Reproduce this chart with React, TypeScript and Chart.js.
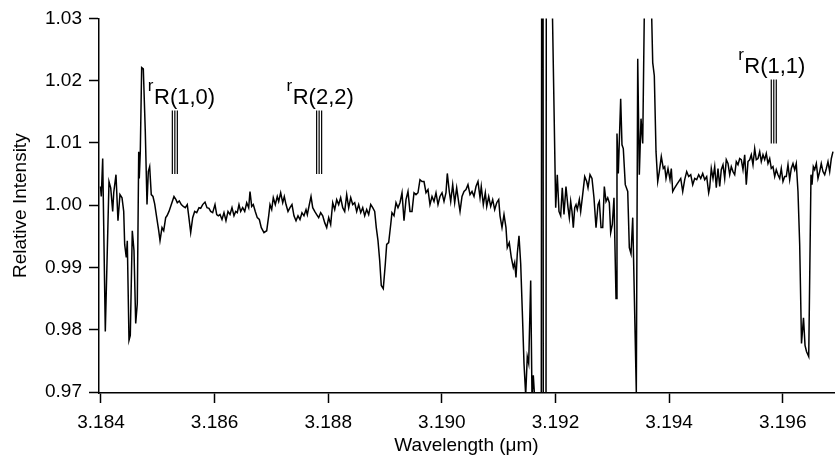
import React, { useEffect, useRef } from "react";
import { Chart, registerables } from "chart.js";

Chart.register(...registerables);

// Wavelength (µm) of each sample of the spectrum
const wavelength: number[] = [
  3.183991, 3.184005, 3.18403, 3.184076, 3.184141, 3.184171, 3.184206, 3.184224, 3.184264, 3.184299,
  3.184334, 3.18437, 3.1844, 3.184417, 3.184445, 3.184463, 3.184493, 3.184516, 3.184551, 3.184581,
  3.184611, 3.184639, 3.184664, 3.184674, 3.184692, 3.184716, 3.184745, 3.18478, 3.18481, 3.184833,
  3.184857, 3.184885, 3.184915, 3.184945, 3.184981, 3.185016, 3.185039, 3.185074, 3.185104, 3.185139,
  3.185162, 3.185197, 3.185238, 3.185285, 3.18532, 3.185343, 3.185378, 3.185414, 3.185449, 3.185484,
  3.185519, 3.185544, 3.185579, 3.185614, 3.185649, 3.185685, 3.185725, 3.185755, 3.18579, 3.185831,
  3.185866, 3.185901, 3.185931, 3.185966, 3.186007, 3.186037, 3.186065, 3.186095, 3.18613, 3.186165,
  3.1862, 3.186236, 3.186271, 3.186306, 3.186341, 3.186371, 3.186399, 3.186429, 3.186459, 3.186494,
  3.18653, 3.186565, 3.1866, 3.186623, 3.186653, 3.186681, 3.186716, 3.186751, 3.186787, 3.186822,
  3.186869, 3.186917, 3.186952, 3.186975, 3.187005, 3.187033, 3.187068, 3.187103, 3.187128, 3.187163,
  3.187199, 3.187227, 3.187257, 3.187292, 3.187327, 3.187362, 3.187397, 3.187433, 3.187468, 3.187503,
  3.187538, 3.187573, 3.187609, 3.187632, 3.187667, 3.187697, 3.187727, 3.187762, 3.187797, 3.187832,
  3.187867, 3.187903, 3.187938, 3.187973, 3.188008, 3.188043, 3.188079, 3.188114, 3.188149, 3.188184,
  3.188219, 3.188255, 3.18829, 3.188325, 3.18836, 3.188396, 3.188431, 3.188466, 3.188501, 3.188536,
  3.188572, 3.188607, 3.188642, 3.188677, 3.188712, 3.188748, 3.188783, 3.188818, 3.188846, 3.188876,
  3.188906, 3.188934, 3.188969, 3.189005, 3.189029, 3.189064, 3.1891, 3.189122, 3.189158, 3.189193,
  3.189228, 3.189263, 3.189299, 3.189334, 3.189369, 3.189404, 3.189439, 3.189475, 3.18951, 3.189545,
  3.18958, 3.189615, 3.189651, 3.189686, 3.189721, 3.189756, 3.189791, 3.189827, 3.189862, 3.189897,
  3.189932, 3.189967, 3.190003, 3.190038, 3.190073, 3.190096, 3.190131, 3.190156, 3.190191, 3.190226,
  3.190261, 3.190297, 3.19032, 3.190355, 3.19039, 3.190425, 3.19046, 3.190496, 3.190531, 3.190566,
  3.190601, 3.190636, 3.190672, 3.190694, 3.19073, 3.190765, 3.19079, 3.190825, 3.19086, 3.190895,
  3.19093, 3.190966, 3.191001, 3.191024, 3.191059, 3.191094, 3.191129, 3.191152, 3.191187, 3.191223,
  3.191258, 3.191282, 3.191305, 3.191328, 3.191358, 3.191388, 3.191416, 3.191446, 3.191476, 3.191504,
  3.191529, 3.191564, 3.191587, 3.19161, 3.191634, 3.191675, 3.191719, 3.191749, 3.191774, 3.191791,
  3.191825, 3.191851, 3.191886, 3.191939, 3.192004, 3.192032, 3.192062, 3.192092, 3.19212, 3.19215,
  3.192185, 3.192221, 3.192244, 3.192268, 3.192291, 3.192314, 3.192339, 3.192362, 3.192384, 3.19242,
  3.192444, 3.192479, 3.192515, 3.19255, 3.192573, 3.192608, 3.192643, 3.192678, 3.192714, 3.192749,
  3.192772, 3.192802, 3.192832, 3.19286, 3.19289, 3.19292, 3.192948, 3.192972, 3.193001, 3.19303,
  3.193066, 3.193083, 3.193106, 3.193148, 3.193171, 3.193194, 3.193229, 3.193272, 3.1933, 3.19333,
  3.19336, 3.193423, 3.193448, 3.193476, 3.193506, 3.193536, 3.193576, 3.193629, 3.193682, 3.193712,
  3.19374, 3.19377, 3.1938, 3.193828, 3.193863, 3.193898, 3.193923, 3.193946, 3.193981, 3.194016,
  3.194039, 3.194064, 3.194099, 3.194134, 3.194169, 3.194205, 3.19424, 3.194275, 3.19431, 3.194345,
  3.194381, 3.194416, 3.194451, 3.194486, 3.194521, 3.194557, 3.194592, 3.194627, 3.194662, 3.194697,
  3.194715, 3.194743, 3.194773, 3.194803, 3.194831, 3.194861, 3.194891, 3.194919, 3.194949, 3.194979,
  3.195007, 3.195037, 3.195067, 3.195095, 3.195125, 3.195155, 3.195183, 3.195213, 3.195243, 3.195271,
  3.195301, 3.195331, 3.195359, 3.195389, 3.195419, 3.195447, 3.195477, 3.195507, 3.195535, 3.195565,
  3.195595, 3.195623, 3.195653, 3.195683, 3.195711, 3.195741, 3.195771, 3.195799, 3.195829, 3.195859,
  3.195887, 3.195917, 3.195947, 3.195975, 3.196005, 3.196035, 3.196063, 3.196093, 3.196123, 3.196151,
  3.196181, 3.196211, 3.196239, 3.196269, 3.196299, 3.196331, 3.196366, 3.196393, 3.196419, 3.196458,
  3.196498, 3.196516, 3.196539, 3.196563, 3.196592, 3.196621, 3.196651, 3.196679, 3.196709, 3.196739,
  3.196768, 3.196797, 3.196827, 3.196856, 3.196885,
];

// Relative intensity of each sample
const intensity: number[] = [
  1.0030, 1.0014, 1.0075, 0.9797, 1.0038, 1.0028, 0.9990, 1.0020, 1.0049, 0.9975,
  1.0017, 1.0012, 0.9990, 0.9937, 0.9916, 0.9943, 0.9783, 0.9791, 0.9959, 0.9927,
  0.9810, 0.9842, 1.0086, 1.0043, 1.0086, 1.0221, 1.0219, 1.0118, 1.0001, 1.0054,
  1.0062, 1.0017, 1.0014, 1.0002, 0.9980, 0.9959, 0.9943, 0.9964, 0.9959, 0.9980,
  0.9983, 0.9990, 1.0001, 1.0014, 1.0009, 1.0004, 1.0007, 1.0001, 0.9998, 0.9996,
  1.0001, 0.9983, 0.9956, 0.9980, 0.9990, 0.9988, 0.9996, 0.9995, 1.0001, 1.0005,
  0.9996, 0.9995, 0.9990, 0.9988, 1.0001, 0.9985, 0.9983, 0.9985, 0.9977, 0.9988,
  0.9975, 0.9990, 0.9985, 0.9996, 0.9983, 0.9990, 0.9988, 1.0001, 0.9990, 0.9996,
  0.9990, 1.0004, 0.9996, 1.0022, 0.9998, 1.0001, 0.9990, 0.9980, 0.9977, 0.9964,
  0.9956, 0.9959, 0.9983, 1.0001, 0.9993, 1.0012, 1.0001, 1.0014, 1.0006, 1.0020,
  1.0004, 1.0014, 1.0001, 0.9990, 0.9996, 1.0001, 0.9983, 0.9975, 0.9983, 0.9977,
  0.9988, 0.9983, 0.9993, 0.9985, 1.0001, 1.0014, 0.9996, 0.9990, 0.9985, 0.9980,
  0.9988, 0.9983, 0.9972, 0.9964, 0.9980, 0.9969, 1.0004, 0.9993, 1.0009, 1.0001,
  1.0012, 0.9996, 0.9990, 1.0017, 0.9996, 1.0012, 1.0001, 1.0004, 0.9990, 1.0001,
  0.9988, 0.9996, 0.9983, 0.9993, 0.9985, 1.0001, 0.9996, 0.9990, 0.9964, 0.9943,
  0.9911, 0.9871, 0.9866, 0.9906, 0.9937, 0.9940, 0.9969, 0.9988, 0.9983, 1.0004,
  0.9996, 1.0004, 1.0020, 0.9975, 1.0009, 1.0022, 0.9990, 0.9990, 1.0020, 1.0017,
  1.0020, 1.0041, 1.0038, 1.0038, 1.0020, 1.0025, 1.0001, 1.0014, 1.0006, 1.0020,
  1.0001, 1.0014, 1.0020, 1.0006, 1.0020, 1.0051, 1.0022, 1.0006, 1.0033, 1.0004,
  1.0028, 1.0004, 0.9990, 1.0014, 1.0022, 1.0025, 1.0033, 1.0017, 1.0022, 1.0014,
  1.0030, 1.0038, 1.0012, 1.0030, 1.0001, 1.0020, 0.9998, 1.0014, 0.9998, 1.0009,
  0.9993, 1.0004, 1.0009, 0.9983, 0.9964, 0.9985, 0.9964, 0.9932, 0.9940, 0.9916,
  0.9900, 0.9908, 0.9884, 0.9922, 0.9951, 0.9906, 0.9831, 0.9746, 0.9695, 0.9757,
  0.9746, 0.9879, 0.9690, 0.9727, 0.9690, 0.9650, 0.9600, 0.9550, 1.2000, 0.8500,
  0.8500, 1.2000, 1.1000, 1.0350, 0.9996, 1.0049, 0.9990, 0.9983, 1.0028, 0.9985,
  1.0030, 0.9996, 0.9980, 1.0006, 0.9990, 0.9964, 0.9996, 1.0001, 0.9993, 1.0009,
  0.9990, 1.0017, 1.0046, 1.0038, 1.0028, 1.0049, 1.0043, 1.0012, 0.9964, 1.0001,
  1.0006, 0.9964, 0.9964, 1.0030, 1.0006, 1.0012, 1.0004, 0.9956, 0.9969, 1.0012,
  0.9850, 1.0115, 1.0051, 1.0171, 1.0097, 1.0091, 1.0033, 1.0022, 0.9932, 0.9922,
  0.9980, 0.9700, 1.0235, 1.0049, 1.0139, 1.0099, 1.0400, 1.0450, 1.0350, 1.0229,
  1.0208, 1.0086, 1.0038, 1.0054, 1.0078, 1.0059, 1.0062, 1.0043, 1.0059, 1.0041,
  1.0059, 1.0022, 1.0028, 1.0033, 1.0038, 1.0043, 1.0022, 1.0041, 1.0054, 1.0046,
  1.0049, 1.0033, 1.0043, 1.0041, 1.0049, 1.0043, 1.0051, 1.0041, 1.0046, 1.0020,
  1.0028, 1.0059, 1.0043, 1.0062, 1.0028, 1.0059, 1.0030, 1.0057, 1.0065, 1.0043,
  1.0073, 1.0067, 1.0049, 1.0062, 1.0054, 1.0049, 1.0070, 1.0065, 1.0075, 1.0073,
  1.0057, 1.0081, 1.0033, 1.0070, 1.0073, 1.0081, 1.0065, 1.0091, 1.0073, 1.0075,
  1.0086, 1.0070, 1.0081, 1.0073, 1.0083, 1.0067, 1.0075, 1.0059, 1.0062, 1.0046,
  1.0057, 1.0049, 1.0043, 1.0059, 1.0038, 1.0046, 1.0046, 1.0065, 1.0041, 1.0059,
  1.0067, 1.0057, 1.0067, 1.0022, 0.9937, 0.9778, 0.9819, 0.9775, 0.9765, 0.9757,
  1.0049, 1.0033, 1.0062, 1.0057, 1.0067, 1.0043, 1.0054, 1.0067, 1.0054, 1.0049,
  1.0059, 1.0070, 1.0054, 1.0075, 1.0086,
];

// Axis ticks
const xTicks: number[] = [3.184, 3.186, 3.188, 3.19, 3.192, 3.194, 3.196];
const yTicks: number[] = [0.97, 0.98, 0.99, 1.0, 1.01, 1.02, 1.03];
const xRange: number[] = [3.183965, 3.196903];
const yRange: number[] = [0.96984, 1.03];

// Line assignments (triple marks)
const markNames: string[] = ["R(1,0)", "R(2,2)", "R(1,1)"];
const markWavelength: number[] = [3.1853, 3.18784, 3.195843];
const markTop: number[] = [1.0152, 1.0152, 1.0202];
const markBottom: number[] = [1.005, 1.005, 1.0099];
const markLabelStart: number[] = [3.184933, 3.187375, 3.195324];

const FONT = '"Liberation Sans", Arial, Helvetica, sans-serif';

const markPlugin = {
  id: "markPlugin",
  afterDatasetsDraw(chart: any) {
    const { ctx, scales } = chart;
    const x = scales.x;
    const y = scales.y;
    ctx.save();
    ctx.strokeStyle = "#000";
    ctx.fillStyle = "#000";
    ctx.lineWidth = 1.2;
    for (let i = 0; i < markNames.length; i++) {
      const cx = x.getPixelForValue(markWavelength[i]);
      const top = y.getPixelForValue(markTop[i]);
      const bottom = y.getPixelForValue(markBottom[i]);
      for (const off of [-2.5, 0, 2.5]) {
        ctx.beginPath();
        ctx.moveTo(cx + off, top);
        ctx.lineTo(cx + off, bottom);
        ctx.stroke();
      }
      const lx = x.getPixelForValue(markLabelStart[i]);
      const base = top - 6.6;
      ctx.textBaseline = "alphabetic";
      ctx.textAlign = "left";
      ctx.font = `22px ${FONT}`;
      ctx.fillText(markNames[i], lx, base);
      ctx.font = `17px ${FONT}`;
      ctx.textAlign = "right";
      ctx.fillText("r", lx - 0.5, base - 12.5);
    }
    ctx.restore();
  },
};

export default function App() {
  const canvasRef = useRef<HTMLCanvasElement | null>(null);

  useEffect(() => {
    const canvas = canvasRef.current;
    if (!canvas) return;
    const points = wavelength.map((w, i) => ({ x: w, y: intensity[i] }));
    const chart = new Chart(canvas, {
      type: "line",
      data: {
        datasets: [
          {
            data: points,
            borderColor: "#000",
            borderWidth: 1.5,
            pointRadius: 0,
            tension: 0,
            fill: false,
          },
        ],
      },
      options: {
        animation: false,
        responsive: false,
        devicePixelRatio: 1,
        layout: { padding: { left: 0, top: 15, right: 1, bottom: 0 } },
        plugins: { legend: { display: false }, tooltip: { enabled: false } },
        scales: {
          x: {
            type: "linear",
            min: xRange[0],
            max: xRange[1],
            afterBuildTicks: (axis: any) => {
              axis.ticks = xTicks.map((v) => ({ value: v }));
            },
            afterFit: (axis: any) => {
              axis.height = 68;
            },
            grid: {
              display: true,
              drawOnChartArea: false,
              drawTicks: true,
              tickLength: 10,
              tickWidth: 1.5,
              tickColor: "#000",
            },
            border: { display: true, color: "#000", width: 1.5 },
            ticks: {
              color: "#000",
              font: { family: FONT, size: 19 },
              padding: 8,
              maxRotation: 0,
              autoSkip: false,
              callback: (v: any) => Number(v).toFixed(3),
            },
            title: {
              display: true,
              text: "Wavelength (μm)",
              color: "#000",
              font: { family: FONT, size: 19 },
              padding: { top: 0, bottom: 4 },
            },
          },
          y: {
            type: "linear",
            min: yRange[0],
            max: yRange[1],
            afterBuildTicks: (axis: any) => {
              axis.ticks = yTicks.map((v) => ({ value: v }));
            },
            afterFit: (axis: any) => {
              axis.width = 99;
            },
            grid: {
              display: true,
              drawOnChartArea: false,
              drawTicks: true,
              tickLength: 10,
              tickWidth: 1.5,
              tickColor: "#000",
            },
            border: { display: true, color: "#000", width: 1.5 },
            ticks: {
              color: "#000",
              font: { family: FONT, size: 19 },
              padding: 7,
              autoSkip: false,
              callback: (v: any) => Number(v).toFixed(2),
            },
            title: {
              display: true,
              text: "Relative Intensity",
              color: "#000",
              font: { family: FONT, size: 19 },
              padding: { top: 9, bottom: 0 },
            },
          },
        },
      },
      plugins: [markPlugin],
    });
    return () => chart.destroy();
  }, []);

  return (
    <div style={{ position: "fixed", left: 0, top: 0, width: 835, height: 461, background: "#fff" }}>
      <canvas ref={canvasRef} width={835} height={461} style={{ width: 835, height: 461 }} />
    </div>
  );
}
